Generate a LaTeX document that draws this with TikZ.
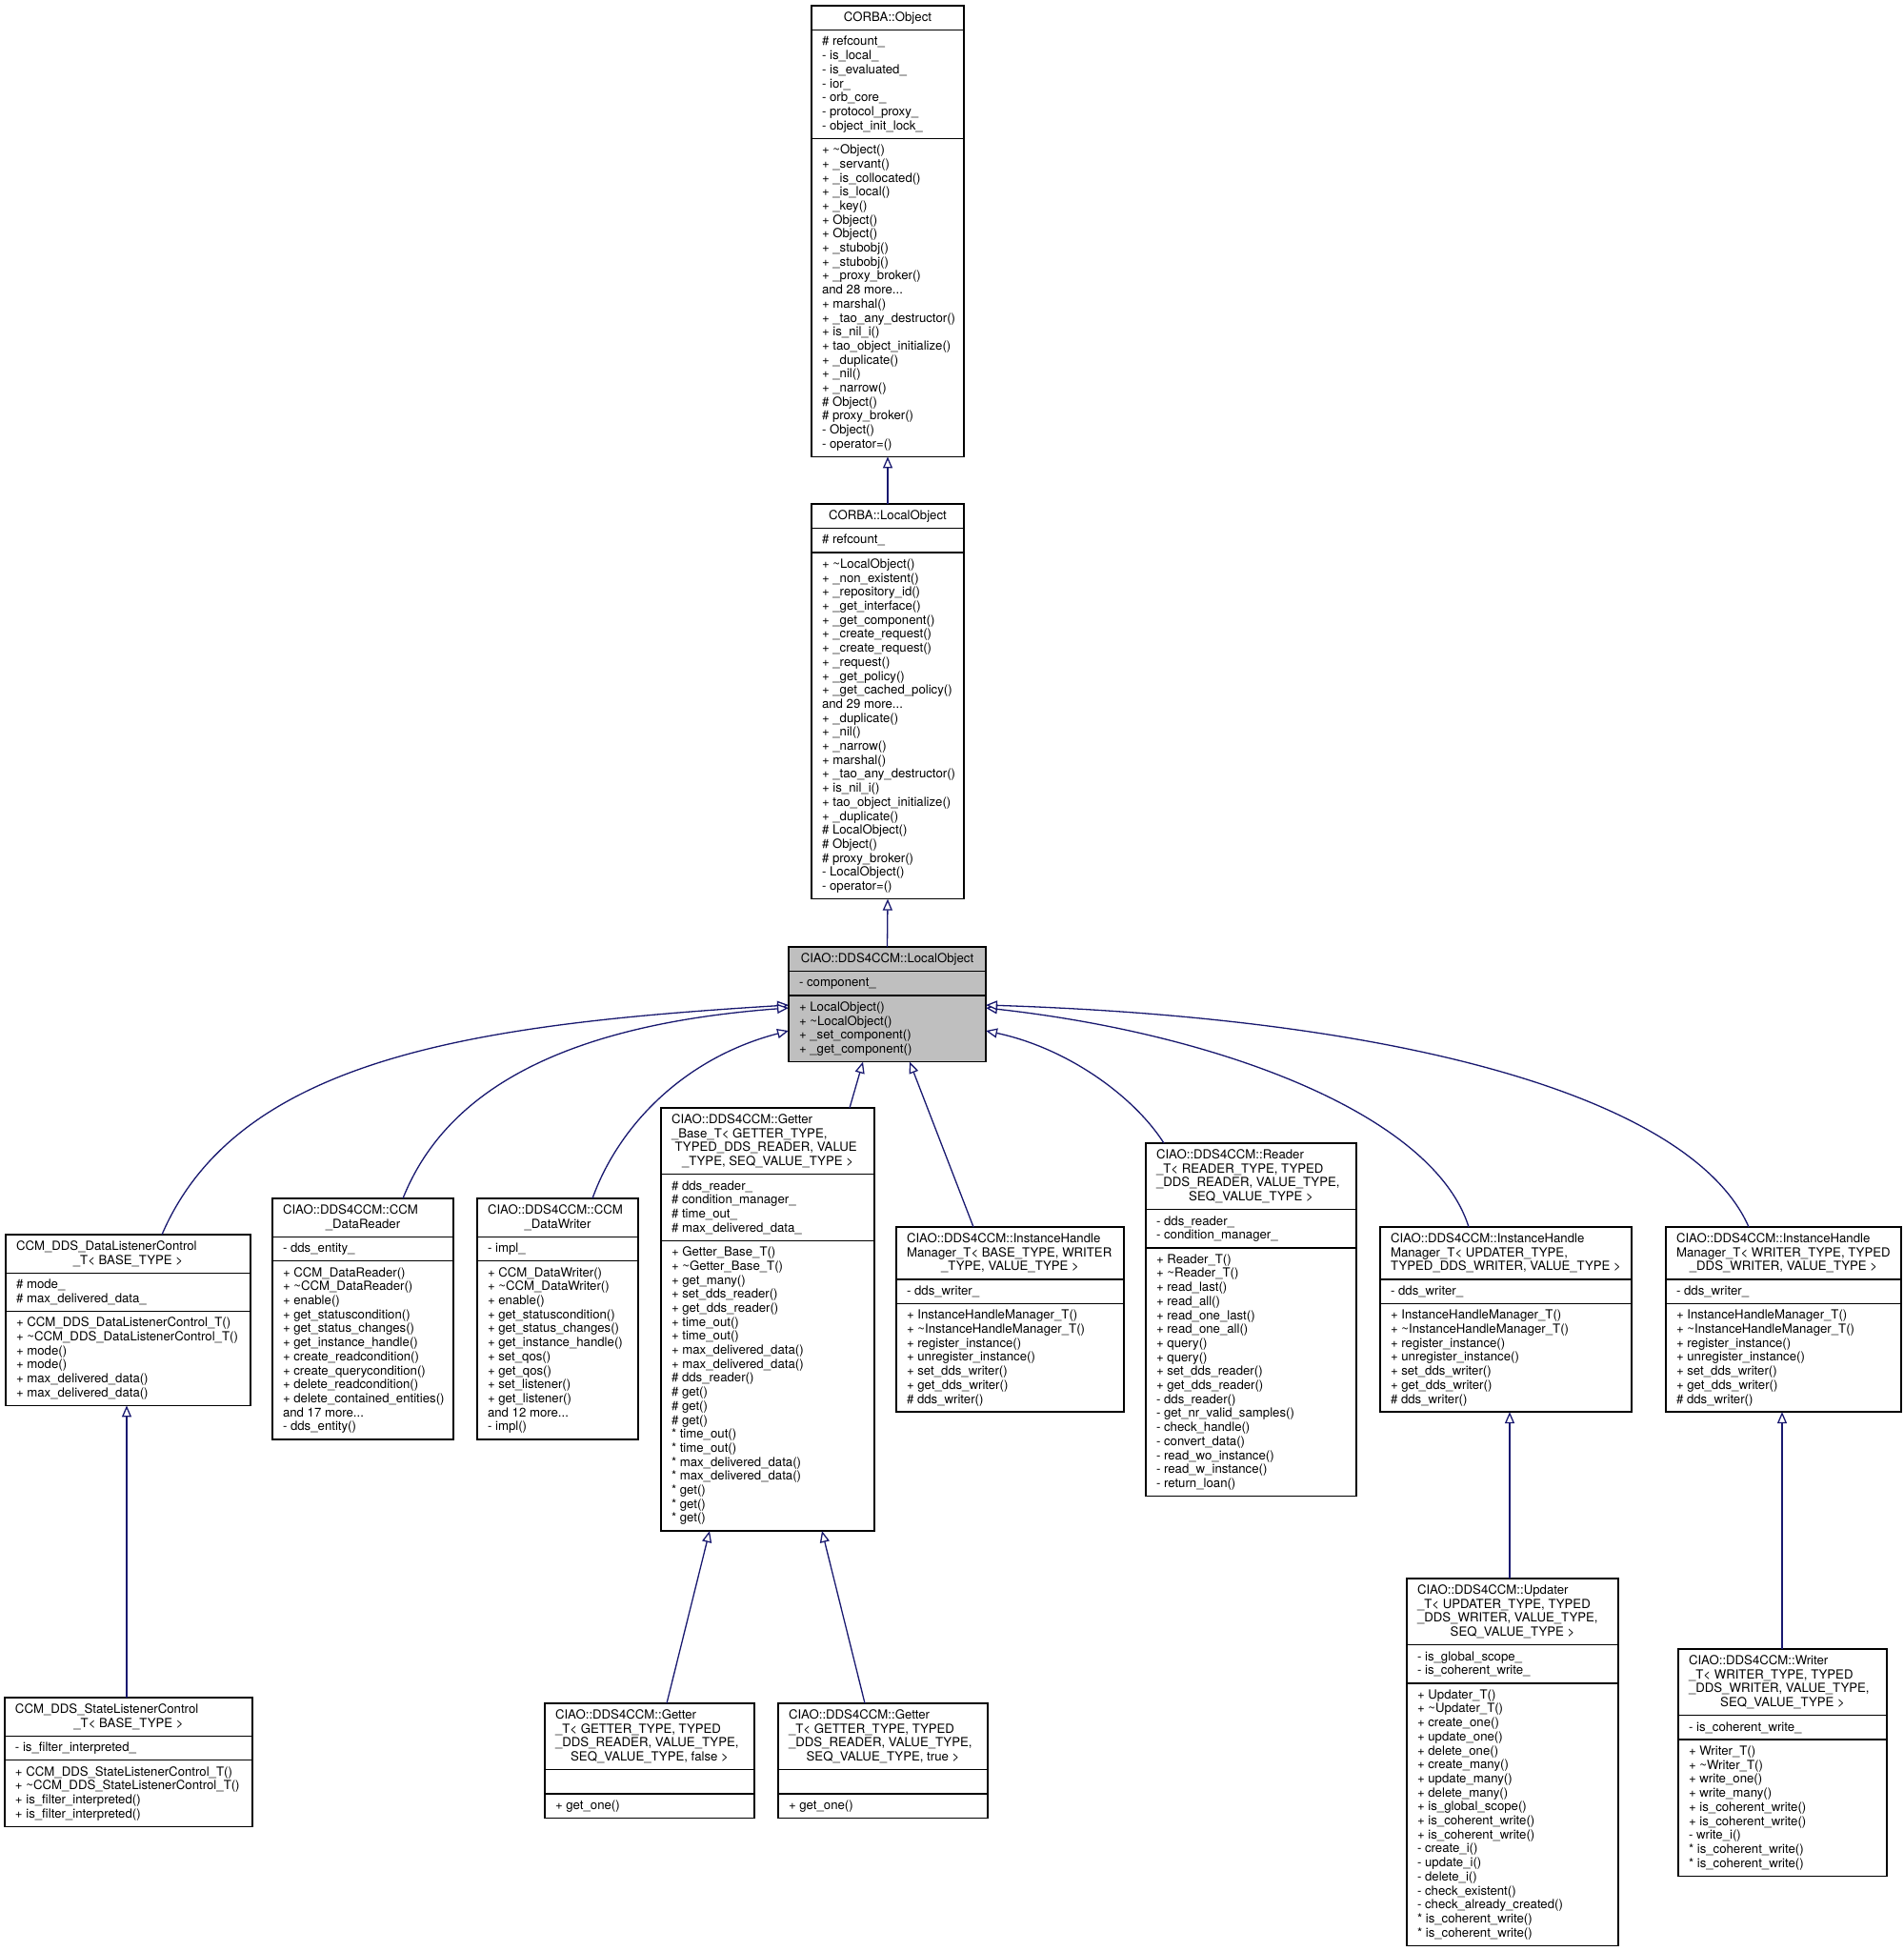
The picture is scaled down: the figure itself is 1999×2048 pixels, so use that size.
\documentclass[tikz,border=0pt]{standalone}
\usepackage{fontspec}
\setmainfont{TeX Gyre Heros}
\usetikzlibrary{arrows.meta}
\definecolor{edgecol}{HTML}{191970}
\definecolor{hilite}{HTML}{BFBFBF}
\catcode`\_=12
\newcommand\tld{\textasciitilde}
\newcommand\sr{\vrule width 0pt height 11pt depth 3.7pt\relax}
\tikzset{
  box/.style={draw=black, line width=1.4pt, fill=white, inner sep=0pt, outer sep=0pt, anchor=north west},
  boxline/.style={draw=black, line width=1.4pt},
  txt/.style={inner sep=0pt, outer sep=0pt, align=left, font=\fontsize{13.2}{14.7}\selectfont},
  inh/.style={draw=edgecol, line width=1.3pt, {Triangle[fill=white,length=12pt,width=10pt]}-},
}
% #1 style, #2 name, #3 x1, #4 x2, #5 ytop, #6 title lines, #7 attr lines, #8 method lines
\newcommand\cls[8][]{%
  \pgfmathsetmacro\hT{14.7*#6+10.8}%
  \pgfmathsetmacro\hA{14.7*#7+10.8}%
  \pgfmathsetmacro\hM{14.7*#8+10.8}%
  \pgfmathsetmacro\wB{#4-#3}%
  \pgfmathsetmacro\hB{\hT+\hA+\hM}%
  \node[box,#1,minimum width=\wB pt,minimum height=\hB pt] (#2) at (#3,#5) {};
  \coordinate (#2-t) at (#3,#5);
  \coordinate (#2-a) at (#3,{#5+\hT});
  \coordinate (#2-m) at (#3,{#5+\hT+\hA});
  \draw[boxline] (#2-a) -- ++(\wB,0);
  \draw[boxline] (#2-m) -- ++(\wB,0);
}
% title: #1 name, #2 number of lines, #3 left lines, #4 last (centred) line
\newcommand\ttl[4]{%
  \ifx\relax#3\relax\else
    \node[txt,anchor=north west] at ([xshift=11pt,yshift=-5.4pt]#1-t) {\sr #3};
  \fi
  \pgfmathsetmacro\ty{-(5.4+14.7*(#2-1))}%
  \node[txt,anchor=north] at ([yshift=\ty pt]#1.north) {\sr #4};
}
\newcommand\sect[2]{\node[txt,anchor=north west] at ([xshift=11pt,yshift=-5.4pt]#1) {\sr #2};}
\begin{document}
\begin{tikzpicture}[x=1pt,y=-1pt]
\fill[white] (0,0) rectangle (1999,2048);
\useasboundingbox (0,0) rectangle (1999,2048);

% ---------- CORBA::Object
\cls{Obj}{852}{1012}{6}{1}{7}{22}
\ttl{Obj}{1}{}{CORBA::Object}
\sect{Obj-a}{\# refcount_\\- is_local_\\- is_evaluated_\\- ior_\\- orb_core_\\- protocol_proxy_\\- object_init_lock_}
\sect{Obj-m}{+ \tld Object()\\+ _servant()\\+ _is_collocated()\\+ _is_local()\\+ _key()\\+ Object()\\+ Object()\\+ _stubobj()\\+ _stubobj()\\+ _proxy_broker()\\and 28 more...\\+ marshal()\\+ _tao_any_destructor()\\+ is_nil_i()\\+ tao_object_initialize()\\+ _duplicate()\\+ _nil()\\+ _narrow()\\\# Object()\\\# proxy_broker()\\- Object()\\- operator=()}

% ---------- CORBA::LocalObject
\cls{LObj}{852}{1012}{529}{1}{1}{24}
\ttl{LObj}{1}{}{CORBA::LocalObject}
\sect{LObj-a}{\# refcount_}
\sect{LObj-m}{+ \tld LocalObject()\\+ _non_existent()\\+ _repository_id()\\+ _get_interface()\\+ _get_component()\\+ _create_request()\\+ _create_request()\\+ _request()\\+ _get_policy()\\+ _get_cached_policy()\\and 29 more...\\+ _duplicate()\\+ _nil()\\+ _narrow()\\+ marshal()\\+ _tao_any_destructor()\\+ is_nil_i()\\+ tao_object_initialize()\\+ _duplicate()\\\# LocalObject()\\\# Object()\\\# proxy_broker()\\- LocalObject()\\- operator=()}

% ---------- CIAO::DDS4CCM::LocalObject
\cls[fill=hilite]{CLO}{828}{1035}{994}{1}{1}{4}
\ttl{CLO}{1}{}{CIAO::DDS4CCM::LocalObject}
\sect{CLO-a}{- component_}
\sect{CLO-m}{+ LocalObject()\\+ \tld LocalObject()\\+ _set_component()\\+ _get_component()}

% ---------- CCM_DDS_DataListenerControl_T
\cls{DLC}{6}{263}{1296}{2}{2}{6}
\ttl{DLC}{2}{CCM_DDS_DataListenerControl}{_T< BASE_TYPE >}
\sect{DLC-a}{\# mode_\\\# max_delivered_data_}
\sect{DLC-m}{+ CCM_DDS_DataListenerControl_T()\\+ \tld CCM_DDS_DataListenerControl_T()\\+ mode()\\+ mode()\\+ max_delivered_data()\\+ max_delivered_data()}

% ---------- CCM_DataReader
\cls{DR}{286}{476}{1258}{2}{1}{12}
\ttl{DR}{2}{CIAO::DDS4CCM::CCM}{_DataReader}
\sect{DR-a}{- dds_entity_}
\sect{DR-m}{+ CCM_DataReader()\\+ \tld CCM_DataReader()\\+ enable()\\+ get_statuscondition()\\+ get_status_changes()\\+ get_instance_handle()\\+ create_readcondition()\\+ create_querycondition()\\+ delete_readcondition()\\+ delete_contained_entities()\\and 17 more...\\- dds_entity()}

% ---------- CCM_DataWriter
\cls{DW}{501}{670}{1258}{2}{1}{12}
\ttl{DW}{2}{CIAO::DDS4CCM::CCM}{_DataWriter}
\sect{DW-a}{- impl_}
\sect{DW-m}{+ CCM_DataWriter()\\+ \tld CCM_DataWriter()\\+ enable()\\+ get_statuscondition()\\+ get_status_changes()\\+ get_instance_handle()\\+ set_qos()\\+ get_qos()\\+ set_listener()\\+ get_listener()\\and 12 more...\\- impl()}

% ---------- Getter_Base_T
\cls{GB}{694}{918}{1163}{4}{4}{20}
\ttl{GB}{4}{CIAO::DDS4CCM::Getter\\_Base_T< GETTER_TYPE,\\\ TYPED_DDS_READER, VALUE}{_TYPE, SEQ_VALUE_TYPE >}
\sect{GB-a}{\# dds_reader_\\\# condition_manager_\\\# time_out_\\\# max_delivered_data_}
\sect{GB-m}{+ Getter_Base_T()\\+ \tld Getter_Base_T()\\+ get_many()\\+ set_dds_reader()\\+ get_dds_reader()\\+ time_out()\\+ time_out()\\+ max_delivered_data()\\+ max_delivered_data()\\\# dds_reader()\\\# get()\\\# get()\\\# get()\\{}* time_out()\\{}* time_out()\\{}* max_delivered_data()\\{}* max_delivered_data()\\{}* get()\\{}* get()\\{}* get()}

% ---------- InstanceHandleManager_T< BASE_TYPE ...>
\cls{IHa}{941}{1180}{1288}{3}{1}{7}
\ttl{IHa}{3}{CIAO::DDS4CCM::InstanceHandle\\Manager_T< BASE_TYPE, WRITER}{_TYPE, VALUE_TYPE >}
\sect{IHa-a}{- dds_writer_}
\sect{IHa-m}{+ InstanceHandleManager_T()\\+ \tld InstanceHandleManager_T()\\+ register_instance()\\+ unregister_instance()\\+ set_dds_writer()\\+ get_dds_writer()\\\# dds_writer()}

% ---------- Reader_T
\cls{RD}{1203}{1424}{1200}{4}{2}{17}
\ttl{RD}{4}{CIAO::DDS4CCM::Reader\\_T< READER_TYPE, TYPED\\_DDS_READER, VALUE_TYPE,}{SEQ_VALUE_TYPE >}
\sect{RD-a}{- dds_reader_\\- condition_manager_}
\sect{RD-m}{+ Reader_T()\\+ \tld Reader_T()\\+ read_last()\\+ read_all()\\+ read_one_last()\\+ read_one_all()\\+ query()\\+ query()\\+ set_dds_reader()\\+ get_dds_reader()\\- dds_reader()\\- get_nr_valid_samples()\\- check_handle()\\- convert_data()\\- read_wo_instance()\\- read_w_instance()\\- return_loan()}

% ---------- InstanceHandleManager_T< UPDATER_TYPE ...>
\cls{IHb}{1449}{1713}{1288}{3}{1}{7}
\ttl{IHb}{3}{CIAO::DDS4CCM::InstanceHandle\\Manager_T< UPDATER_TYPE,}{TYPED_DDS_WRITER, VALUE_TYPE >}
\sect{IHb-a}{- dds_writer_}
\sect{IHb-m}{+ InstanceHandleManager_T()\\+ \tld InstanceHandleManager_T()\\+ register_instance()\\+ unregister_instance()\\+ set_dds_writer()\\+ get_dds_writer()\\\# dds_writer()}

% ---------- InstanceHandleManager_T< WRITER_TYPE ...>
\cls{IHc}{1749}{1996}{1288}{3}{1}{7}
\ttl{IHc}{3}{CIAO::DDS4CCM::InstanceHandle\\Manager_T< WRITER_TYPE, TYPED}{_DDS_WRITER, VALUE_TYPE >}
\sect{IHc-a}{- dds_writer_}
\sect{IHc-m}{+ InstanceHandleManager_T()\\+ \tld InstanceHandleManager_T()\\+ register_instance()\\+ unregister_instance()\\+ set_dds_writer()\\+ get_dds_writer()\\\# dds_writer()}

% ---------- CCM_DDS_StateListenerControl_T
\cls{SLC}{5}{265}{1782}{2}{1}{4}
\ttl{SLC}{2}{CCM_DDS_StateListenerControl}{_T< BASE_TYPE >}
\sect{SLC-a}{- is_filter_interpreted_}
\sect{SLC-m}{+ CCM_DDS_StateListenerControl_T()\\+ \tld CCM_DDS_StateListenerControl_T()\\+ is_filter_interpreted()\\+ is_filter_interpreted()}

% ---------- Getter_T false
\cls{GF}{572}{792}{1788}{4}{1}{1}
\ttl{GF}{4}{CIAO::DDS4CCM::Getter\\_T< GETTER_TYPE, TYPED\\_DDS_READER, VALUE_TYPE,}{SEQ_VALUE_TYPE, false >}
\sect{GF-m}{+ get_one()}

% ---------- Getter_T true
\cls{GT}{817}{1037}{1788}{4}{1}{1}
\ttl{GT}{4}{CIAO::DDS4CCM::Getter\\_T< GETTER_TYPE, TYPED\\_DDS_READER, VALUE_TYPE,}{SEQ_VALUE_TYPE, true >}
\sect{GT-m}{+ get_one()}

% ---------- Updater_T
\cls{UP}{1477}{1699}{1657}{4}{2}{18}
\ttl{UP}{4}{CIAO::DDS4CCM::Updater\\_T< UPDATER_TYPE, TYPED\\_DDS_WRITER, VALUE_TYPE,}{SEQ_VALUE_TYPE >}
\sect{UP-a}{- is_global_scope_\\- is_coherent_write_}
\sect{UP-m}{+ Updater_T()\\+ \tld Updater_T()\\+ create_one()\\+ update_one()\\+ delete_one()\\+ create_many()\\+ update_many()\\+ delete_many()\\+ is_global_scope()\\+ is_coherent_write()\\+ is_coherent_write()\\- create_i()\\- update_i()\\- delete_i()\\- check_existent()\\- check_already_created()\\{}* is_coherent_write()\\{}* is_coherent_write()}

% ---------- Writer_T
\cls{WR}{1762}{1981}{1731}{4}{1}{9}
\ttl{WR}{4}{CIAO::DDS4CCM::Writer\\_T< WRITER_TYPE, TYPED\\_DDS_WRITER, VALUE_TYPE,}{SEQ_VALUE_TYPE >}
\sect{WR-a}{- is_coherent_write_}
\sect{WR-m}{+ Writer_T()\\+ \tld Writer_T()\\+ write_one()\\+ write_many()\\+ is_coherent_write()\\+ is_coherent_write()\\- write_i()\\{}* is_coherent_write()\\{}* is_coherent_write()}

% ---------- inheritance connectors
\draw[inh] (Obj.south) -- (LObj.north);
\draw[inh] (LObj.south) -- (CLO.north);
\draw[inh] ([yshift=-61pt]CLO.north west) .. controls (500,1075) and (250,1110) .. ([xshift=164pt]DLC.north west);
\draw[inh] ([yshift=-64pt]CLO.north west) .. controls (600,1075) and (470,1140) .. ([xshift=137pt]DR.north west);
\draw[inh] ([yshift=-88pt]CLO.north west) .. controls (720,1110) and (650,1180) .. ([xshift=121pt]DW.north west);
\draw[inh] ([xshift=78pt]CLO.south west) -- ([xshift=198pt]GB.north west);
\draw[inh] ([xshift=127pt]CLO.south west) -- ([xshift=81pt]IHa.north west);
\draw[inh] ([yshift=-88pt]CLO.north east) .. controls (1120,1100) and (1190,1150) .. ([xshift=19pt]RD.north west);
\draw[inh] ([yshift=-64pt]CLO.north east) .. controls (1280,1085) and (1505,1170) .. ([xshift=93pt]IHb.north west);
\draw[inh] ([yshift=-61pt]CLO.north east) .. controls (1500,1070) and (1780,1160) .. ([xshift=87pt]IHc.north west);
\draw[inh] ([xshift=127pt]DLC.south west) -- ([xshift=128pt]SLC.north west);
\draw[inh] ([xshift=51pt]GB.south west) -- ([xshift=128pt]GF.north west);
\draw[inh] ([xshift=169pt]GB.south west) -- ([xshift=91pt]GT.north west);
\draw[inh] ([xshift=136pt]IHb.south west) -- ([xshift=108pt]UP.north west);
\draw[inh] ([xshift=122pt]IHc.south west) -- ([xshift=109pt]WR.north west);
\end{tikzpicture}
\end{document}
